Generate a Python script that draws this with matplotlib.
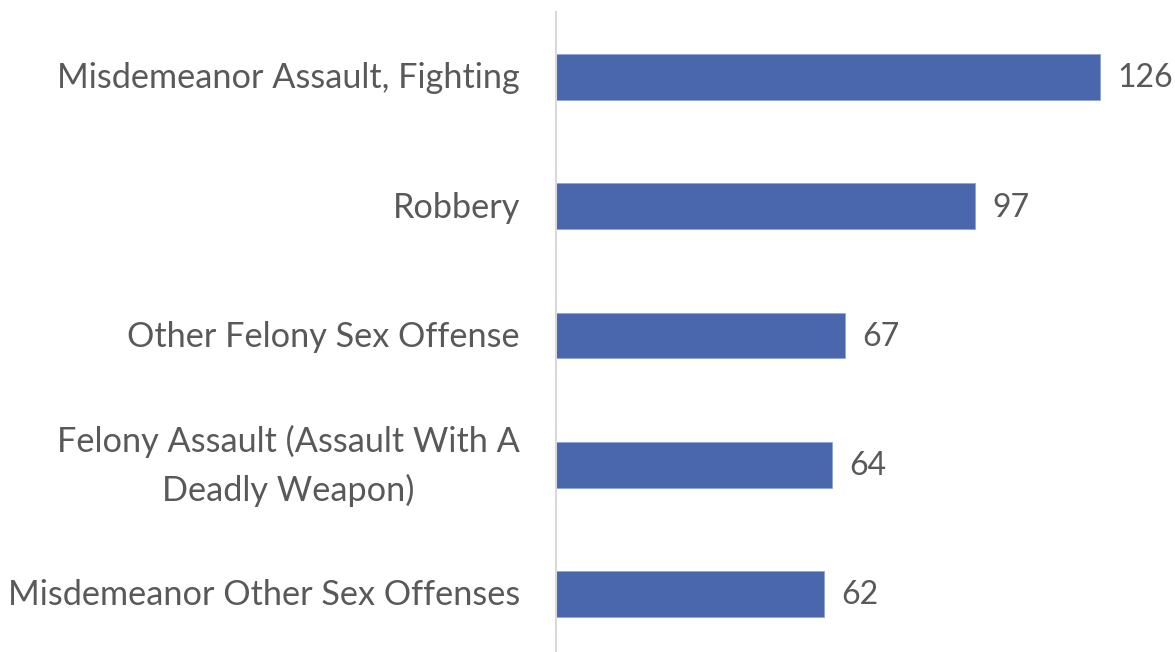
import matplotlib

matplotlib.use("Agg")
import matplotlib.pyplot as plt  # noqa: E402

# offense categories, top to bottom
categories = [
    "Misdemeanor Assault, Fighting",
    "Robbery",
    "Other Felony Sex Offense",
    "Felony Assault (Assault With A\nDeadly Weapon)",
    "Misdemeanor Other Sex Offenses",
]
counts = [126, 97, 67, 64, 62]

BAR = "#4A66AC"
TEXT = "#595959"
plt.rcParams["font.family"] = ["Lato", "DejaVu Sans"]

W, H = 1175, 652
fig = plt.figure(figsize=(W / 100, H / 100), dpi=100)
left, top = 556, 12.4
ax = fig.add_axes([left / W, 0, (W - left) / W, (H - top) / H])

ypos = list(range(len(categories)))
ax.barh(ypos, counts, height=0.355, color=BAR, edgecolor="#8FA4D4", linewidth=0.6)
ax.set_xlim(0, (W - left) / 4.317)
ax.set_ylim(4.449, -0.5)

for y, v in zip(ypos, counts):
    ax.annotate(str(v), (v, y), xytext=(12.5, -1), textcoords="offset points",
                va="center", ha="left", fontsize=23, color=TEXT)

# category labels, right-aligned against the axis line
for y, name in zip(ypos, categories):
    ax.annotate(name, (0, y), xytext=(-26, -1), textcoords="offset points",
                va="center", ha="right", multialignment="center",
                fontsize=24.7, color=TEXT, linespacing=1.6,
                annotation_clip=False)

ax.set_yticks([])
ax.set_xticks([])
for s in ["top", "right", "bottom"]:
    ax.spines[s].set_visible(False)
ax.spines["left"].set_color("#D9D9D9")
ax.spines["left"].set_linewidth(1.5)

fig.savefig("out.png", dpi=100)
